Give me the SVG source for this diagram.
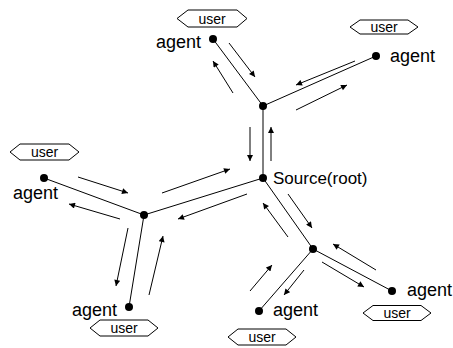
<svg xmlns="http://www.w3.org/2000/svg" width="453" height="348" viewBox="0 0 453 348">
  <style>
    .link { stroke: #000; stroke-width: 1; fill: none; }
    .flow { stroke: #000; stroke-width: 1; fill: none; marker-end: url(#head); }
    .dot { fill: #000; }
    .lbl { font-family: "Liberation Sans", Arial, sans-serif; font-size: 18px; fill: #000; }
    .root { font-size: 17px; }
    .tag { fill: #fff; stroke: #000; stroke-width: 1; }
    .tagtxt { font-family: "Liberation Sans", Arial, sans-serif; font-size: 14px; fill: #000; text-anchor: middle; }
  </style>
  <defs>
    <marker id="head" viewBox="0 0 10 10" refX="10" refY="5" markerWidth="7" markerHeight="6" markerUnits="userSpaceOnUse" orient="auto">
      <path d="M0,0 L10,5 L0,10 Z" fill="#000"/>
    </marker>
  </defs>
  <rect width="453" height="348" fill="#fff"/>

  <g id="connectors">
    <!-- tree links -->
    <line class="link" x1="213" y1="39" x2="263" y2="106"/>
    <line class="link" x1="263" y1="106" x2="376" y2="56"/>
    <line class="link" x1="263" y1="106" x2="263" y2="178"/>
    <line class="link" x1="263" y1="178" x2="144" y2="215"/>
    <line class="link" x1="144" y1="215" x2="44" y2="178"/>
    <line class="link" x1="144" y1="215" x2="129" y2="307"/>
    <line class="link" x1="263" y1="178" x2="313" y2="249"/>
    <line class="link" x1="313" y1="249" x2="259" y2="311"/>
    <line class="link" x1="313" y1="249" x2="392" y2="291"/>
    <!-- message flows beside each link -->
    <line class="flow" x1="229" y1="43" x2="255" y2="77"/>
    <line class="flow" x1="233" y1="93" x2="213" y2="61"/>
    <line class="flow" x1="355" y1="61" x2="296" y2="85"/>
    <line class="flow" x1="296" y1="110" x2="347" y2="85"/>
    <line class="flow" x1="250" y1="127" x2="250" y2="161"/>
    <line class="flow" x1="271" y1="161" x2="271" y2="127"/>
    <line class="flow" x1="162" y1="193" x2="230" y2="169"/>
    <line class="flow" x1="247" y1="194" x2="178" y2="219"/>
    <line class="flow" x1="78" y1="177" x2="128" y2="193"/>
    <line class="flow" x1="120" y1="219" x2="69" y2="204"/>
    <line class="flow" x1="128" y1="228" x2="116" y2="286"/>
    <line class="flow" x1="149" y1="295" x2="163" y2="236"/>
    <line class="flow" x1="288" y1="194" x2="312" y2="228"/>
    <line class="flow" x1="288" y1="237" x2="263" y2="203"/>
    <line class="flow" x1="304" y1="270" x2="284" y2="295"/>
    <line class="flow" x1="250" y1="291" x2="272" y2="265"/>
    <line class="flow" x1="376" y1="270" x2="333" y2="244"/>
    <line class="flow" x1="322" y1="262" x2="364" y2="287"/>
  </g>

  <g id="source">
    <circle class="dot" cx="263" cy="178" r="4"/>
    <text class="lbl root" x="273" y="184">Source(root)</text>
  </g>
  <g id="junction-top">
    <circle class="dot" cx="263" cy="106" r="4"/>
  </g>
  <g id="junction-left">
    <circle class="dot" cx="144" cy="215" r="4"/>
  </g>
  <g id="junction-right">
    <circle class="dot" cx="313" cy="249" r="4"/>
  </g>

  <g id="agent-top-left">
    <circle class="dot" cx="213" cy="39" r="4"/>
    <text class="lbl" x="201" y="48" text-anchor="end">agent</text>
    <polygon class="tag" points="177,18.5 188,10 237,10 247,18.5 237,27 188,27"/>
    <text class="tagtxt" x="212" y="23.5">user</text>
  </g>
  <g id="agent-top-right">
    <circle class="dot" cx="376" cy="56" r="4"/>
    <text class="lbl" x="390" y="62">agent</text>
    <polygon class="tag" points="350,27 360,20 408,20 418,27 408,34 360,34"/>
    <text class="tagtxt" x="384" y="32">user</text>
  </g>
  <g id="agent-left">
    <circle class="dot" cx="44" cy="178" r="4"/>
    <text class="lbl" x="13" y="199">agent</text>
    <polygon class="tag" points="10,152 20,144 69,144 79,152 69,160 20,160"/>
    <text class="tagtxt" x="44.5" y="157">user</text>
  </g>
  <g id="agent-bottom-left">
    <circle class="dot" cx="129" cy="307" r="4"/>
    <text class="lbl" x="72" y="316">agent</text>
    <polygon class="tag" points="90,328 100,320 148,320 158,328 148,336 100,336"/>
    <text class="tagtxt" x="124" y="333">user</text>
  </g>
  <g id="agent-bottom-center">
    <circle class="dot" cx="259" cy="311" r="4"/>
    <text class="lbl" x="273" y="316">agent</text>
    <polygon class="tag" points="228,337 238,329 286,329 296,337 286,345 238,345"/>
    <text class="tagtxt" x="262" y="342">user</text>
  </g>
  <g id="agent-right">
    <circle class="dot" cx="392" cy="291" r="4"/>
    <text class="lbl" x="407" y="296">agent</text>
    <polygon class="tag" points="363,313 373,305.5 421,305.5 431,313 421,320.5 373,320.5"/>
    <text class="tagtxt" x="397" y="318">user</text>
  </g>
</svg>
